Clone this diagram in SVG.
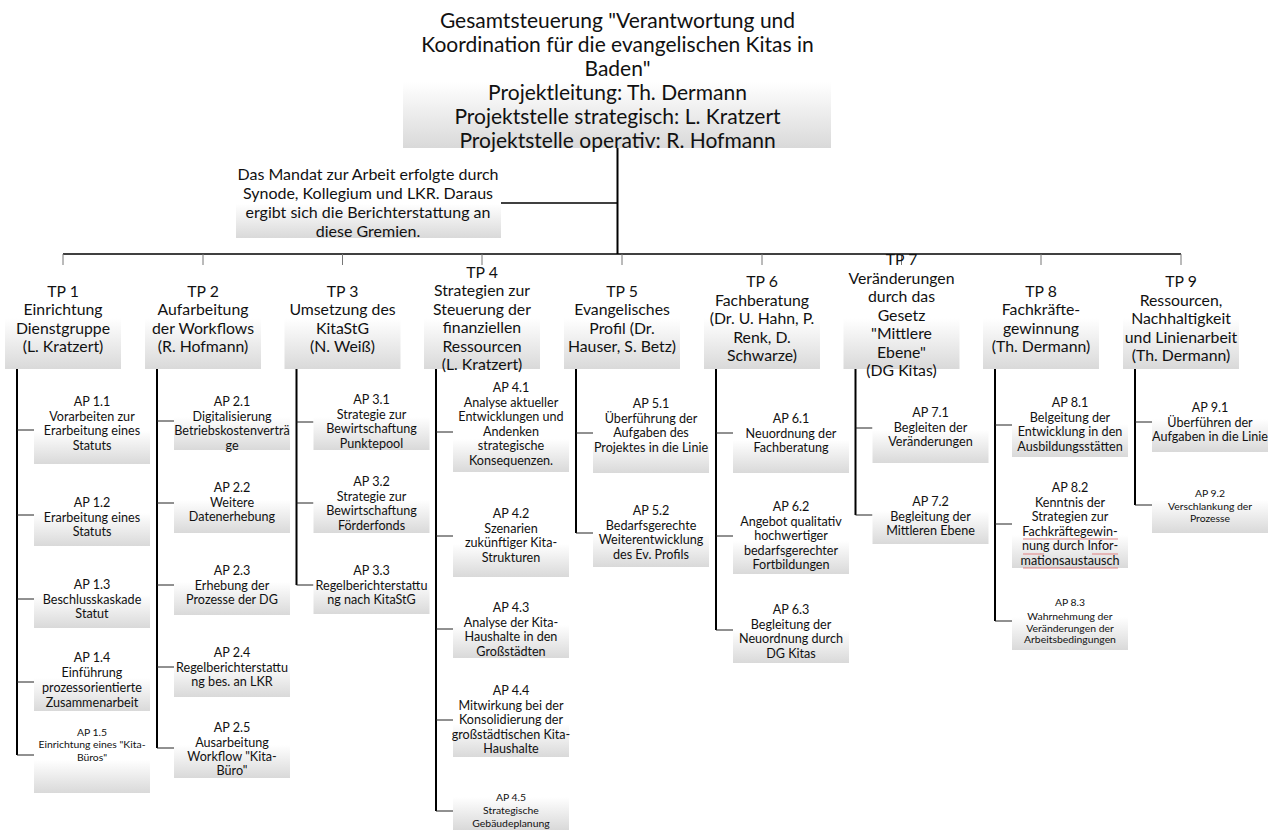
<svg xmlns="http://www.w3.org/2000/svg" width="1277" height="834" viewBox="0 0 1277 834">
<defs>
<linearGradient id="g" x1="0" y1="0" x2="0" y2="1">
<stop offset="0" stop-color="#ffffff"/>
<stop offset="0.45" stop-color="#ffffff"/>
<stop offset="1" stop-color="#d9d9d9"/>
</linearGradient>
<style>
text{font-family:Lato,"Open Sans","Liberation Sans",sans-serif;fill:#111;text-anchor:middle}
.t{font-size:21px}
.m{font-size:16px}
.tp{font-size:15.8px}
.ap{font-size:12.6px}
.s{font-size:10.4px}
.box{fill:url(#g)}
.bus{stroke:#000;stroke-width:1.5;fill:none}
.tick{stroke:#777;stroke-width:1;fill:none}
.trunk{stroke:#000;stroke-width:2;fill:none}
.stub{stroke:#222;stroke-width:1;fill:none}
.sp{stroke:#e06a6a;stroke-width:1;fill:none;opacity:0.8}
</style>
</defs>
<rect width="1277" height="834" fill="#fff"/>

<g id="connectors">
<path class="trunk" d="M617.5 148V254"/>
<path class="bus" d="M501 203H617.5"/>
<path class="bus" d="M63 254H1181"/>
<path class="tick" d="M63 254V265M203 254V265M342.5 254V265M482 254V265M622 254V265M762 254V265M901.5 254V265M1041 254V265M1181 254V265"/>
<path class="trunk" d="M17 369V755M157 369V748M296.5 369V585M436 369V811M576 369V533M716 369V630M855.5 369V515M995 369V621M1135 369V505"/>
<path class="stub" d="M17 430H34M17 515H34M17 599H34M17 682H34M17 755H34"/>
<path class="stub" d="M157 421H174M157 503H174M157 585H174M157 667H174M157 748H174"/>
<path class="stub" d="M296.5 422H313.5M296.5 503H313.5M296.5 585H313.5"/>
<path class="stub" d="M436 432H453M436 536H453M436 629H453M436 720H453M436 811H453"/>
<path class="stub" d="M576 433H593M576 533H593"/>
<path class="stub" d="M716 433H733M716 536H733M716 630H733"/>
<path class="stub" d="M855.5 428H872.5M855.5 515H872.5"/>
<path class="stub" d="M995 425H1012M995 524H1012M995 621H1012"/>
<path class="stub" d="M1135 422H1152M1135 505H1152"/>
</g>

<g id="gesamt">
<rect class="box" x="403" y="28" width="428" height="120"/>
<text class="t"><tspan x="617.5" y="28">Gesamtsteuerung "Verantwortung und</tspan><tspan x="617.5" y="52">Koordination für die evangelischen Kitas in</tspan><tspan x="617.5" y="76">Baden"</tspan><tspan x="617.5" y="100">Projektleitung: Th. Dermann</tspan><tspan x="617.5" y="124">Projektstelle strategisch: L. Kratzert</tspan><tspan x="617.5" y="148">Projektstelle operativ: R. Hofmann</tspan></text>
</g>

<g id="mandat">
<rect class="box" x="236" y="176" width="265" height="62"/>
<text class="m"><tspan x="368" y="180">Das Mandat zur Arbeit erfolgte durch</tspan><tspan x="368" y="199">Synode, Kollegium und LKR. Daraus</tspan><tspan x="368" y="218">ergibt sich die Berichterstattung an</tspan><tspan x="368" y="237">diese Gremien.</tspan></text>
</g>

<g id="tp1">
<rect class="box" x="5" y="277" width="116" height="92"/>
<text class="tp"><tspan x="63" y="296.5">TP 1</tspan><tspan x="63" y="315">Einrichtung</tspan><tspan x="63" y="333.5">Dienstgruppe</tspan><tspan x="63" y="352">(L. Kratzert)</tspan></text>
</g>
<g id="tp2">
<rect class="box" x="145" y="277" width="116" height="92"/>
<text class="tp"><tspan x="203" y="296.5">TP 2</tspan><tspan x="203" y="315">Aufarbeitung</tspan><tspan x="203" y="333.5">der Workflows</tspan><tspan x="203" y="352">(R. Hofmann)</tspan></text>
</g>
<g id="tp3">
<rect class="box" x="284.5" y="277" width="116" height="92"/>
<text class="tp"><tspan x="342.5" y="296.5">TP 3</tspan><tspan x="342.5" y="315">Umsetzung des</tspan><tspan x="342.5" y="333.5">KitaStG</tspan><tspan x="342.5" y="352">(N. Weiß)</tspan></text>
</g>
<g id="tp4">
<rect class="box" x="424" y="277" width="116" height="92"/>
<text class="tp"><tspan x="482" y="277.5">TP 4</tspan><tspan x="482" y="296">Strategien zur</tspan><tspan x="482" y="314.5">Steuerung der</tspan><tspan x="482" y="333">finanziellen</tspan><tspan x="482" y="351.5">Ressourcen</tspan><tspan x="482" y="369.5">(L. Kratzert)</tspan></text>
</g>
<g id="tp5">
<rect class="box" x="564" y="277" width="116" height="92"/>
<text class="tp"><tspan x="622" y="296.5">TP 5</tspan><tspan x="622" y="315">Evangelisches</tspan><tspan x="622" y="333.5">Profil (Dr.</tspan><tspan x="622" y="352">Hauser, S. Betz)</tspan></text>
</g>
<g id="tp6">
<rect class="box" x="704" y="277" width="116" height="92"/>
<text class="tp"><tspan x="762" y="287">TP 6</tspan><tspan x="762" y="305.5">Fachberatung</tspan><tspan x="762" y="324">(Dr. U. Hahn, P.</tspan><tspan x="762" y="342.5">Renk, D.</tspan><tspan x="762" y="361">Schwarze)</tspan></text>
</g>
<g id="tp7">
<rect class="box" x="843.5" y="277" width="116" height="92"/>
<text class="tp"><tspan x="901.5" y="265">TP 7</tspan><tspan x="901.5" y="283.5">Veränderungen</tspan><tspan x="901.5" y="302">durch das</tspan><tspan x="901.5" y="320.5">Gesetz</tspan><tspan x="901.5" y="339">"Mittlere</tspan><tspan x="901.5" y="357.5">Ebene"</tspan><tspan x="901.5" y="376">(DG Kitas)</tspan></text>
</g>
<g id="tp8">
<rect class="box" x="983" y="277" width="116" height="92"/>
<text class="tp"><tspan x="1041" y="296.5">TP 8</tspan><tspan x="1041" y="315">Fachkräfte-</tspan><tspan x="1041" y="333.5">gewinnung</tspan><tspan x="1041" y="352">(Th. Dermann)</tspan></text>
</g>
<g id="tp9">
<rect class="box" x="1123" y="277" width="116" height="92"/>
<text class="tp"><tspan x="1181" y="287">TP 9</tspan><tspan x="1181" y="305.5">Ressourcen,</tspan><tspan x="1181" y="324">Nachhaltigkeit</tspan><tspan x="1181" y="342.5">und Linienarbeit</tspan><tspan x="1181" y="361">(Th. Dermann)</tspan></text>
</g>

<g id="ap1-1"><rect class="box" x="34" y="404" width="116" height="60"/>
<text class="ap"><tspan x="92" y="406">AP 1.1</tspan><tspan x="92" y="420.5">Vorarbeiten zur</tspan><tspan x="92" y="435">Erarbeitung eines</tspan><tspan x="92" y="449.5">Statuts</tspan></text></g>
<g id="ap1-2"><rect class="box" x="34" y="486" width="116" height="60"/>
<text class="ap"><tspan x="92" y="507">AP 1.2</tspan><tspan x="92" y="521.5">Erarbeitung eines</tspan><tspan x="92" y="536">Statuts</tspan></text></g>
<g id="ap1-3"><rect class="box" x="34" y="568" width="116" height="60"/>
<text class="ap"><tspan x="92" y="589">AP 1.3</tspan><tspan x="92" y="603.5">Beschlusskaskade</tspan><tspan x="92" y="618">Statut</tspan></text></g>
<g id="ap1-4"><rect class="box" x="34" y="651" width="116" height="60"/>
<text class="ap"><tspan x="92" y="662">AP 1.4</tspan><tspan x="92" y="677">Einführung</tspan><tspan x="92" y="692">prozessorientierte</tspan><tspan x="92" y="707">Zusammenarbeit</tspan></text></g>
<g id="ap1-5"><rect class="box" x="34" y="733" width="116" height="60"/>
<text class="s"><tspan x="92" y="735.5">AP 1.5</tspan><tspan x="92" y="748">Einrichtung eines "Kita-</tspan><tspan x="92" y="760.5">Büros"</tspan></text></g>

<g id="ap2-1"><rect class="box" x="174" y="390" width="116" height="60"/>
<text class="ap"><tspan x="232" y="406">AP 2.1</tspan><tspan x="232" y="420.5">Digitalisierung</tspan><tspan x="232" y="435">Betriebskostenverträ</tspan><tspan x="232" y="449.5">ge</tspan></text></g>
<g id="ap2-2"><rect class="box" x="174" y="473" width="116" height="60"/>
<text class="ap"><tspan x="232" y="492">AP 2.2</tspan><tspan x="232" y="506.5">Weitere</tspan><tspan x="232" y="521">Datenerhebung</tspan></text></g>
<g id="ap2-3"><rect class="box" x="174" y="555" width="116" height="60"/>
<text class="ap"><tspan x="232" y="575">AP 2.3</tspan><tspan x="232" y="589.5">Erhebung der</tspan><tspan x="232" y="604">Prozesse der DG</tspan></text></g>
<g id="ap2-4"><rect class="box" x="174" y="637" width="116" height="60"/>
<text class="ap"><tspan x="232" y="657">AP 2.4</tspan><tspan x="232" y="671.5">Regelberichterstattu</tspan><tspan x="232" y="686">ng bes. an LKR</tspan></text></g>
<g id="ap2-5"><rect class="box" x="174" y="718" width="116" height="60"/>
<text class="ap"><tspan x="232" y="732">AP 2.5</tspan><tspan x="232" y="746.5">Ausarbeitung</tspan><tspan x="232" y="761">Workflow "Kita-</tspan><tspan x="232" y="775">Büro"</tspan></text></g>

<g id="ap3-1"><rect class="box" x="313.5" y="390" width="116" height="60"/>
<text class="ap"><tspan x="371.5" y="404">AP 3.1</tspan><tspan x="371.5" y="418.5">Strategie zur</tspan><tspan x="371.5" y="433">Bewirtschaftung</tspan><tspan x="371.5" y="447.5">Punktepool</tspan></text></g>
<g id="ap3-2"><rect class="box" x="313.5" y="473" width="116" height="60"/>
<text class="ap"><tspan x="371.5" y="486">AP 3.2</tspan><tspan x="371.5" y="500.5">Strategie zur</tspan><tspan x="371.5" y="515">Bewirtschaftung</tspan><tspan x="371.5" y="529.5">Förderfonds</tspan></text></g>
<g id="ap3-3"><rect class="box" x="313.5" y="554" width="116" height="60"/>
<text class="ap"><tspan x="371.5" y="575">AP 3.3</tspan><tspan x="371.5" y="589.5">Regelberichterstattu</tspan><tspan x="371.5" y="604">ng nach KitaStG</tspan></text></g>

<g id="ap4-1"><rect class="box" x="453" y="412" width="116" height="60"/>
<text class="ap"><tspan x="511" y="392">AP 4.1</tspan><tspan x="511" y="406.5">Analyse aktueller</tspan><tspan x="511" y="421">Entwicklungen und</tspan><tspan x="511" y="435.5">Andenken</tspan><tspan x="511" y="450">strategische</tspan><tspan x="511" y="464.5">Konsequenzen.</tspan></text></g>
<g id="ap4-2"><rect class="box" x="453" y="517" width="116" height="60"/>
<text class="ap"><tspan x="511" y="518">AP 4.2</tspan><tspan x="511" y="532.5">Szenarien</tspan><tspan x="511" y="547">zukünftiger Kita-</tspan><tspan x="511" y="561.5">Strukturen</tspan></text></g>
<g id="ap4-3"><rect class="box" x="453" y="598" width="116" height="60"/>
<text class="ap"><tspan x="511" y="612">AP 4.3</tspan><tspan x="511" y="626.5">Analyse der Kita-</tspan><tspan x="511" y="641">Haushalte in den</tspan><tspan x="511" y="655.5">Großstädten</tspan></text></g>
<g id="ap4-4"><rect class="box" x="453" y="697" width="116" height="60"/>
<text class="ap"><tspan x="511" y="695">AP 4.4</tspan><tspan x="511" y="709.5">Mitwirkung bei der</tspan><tspan x="511" y="724">Konsolidierung der</tspan><tspan x="511" y="738.5">großstädtischen Kita-</tspan><tspan x="511" y="753">Haushalte</tspan></text></g>
<g id="ap4-5"><rect class="box" x="453" y="770" width="116" height="60"/>
<text class="s"><tspan x="511" y="800.5">AP 4.5</tspan><tspan x="511" y="814">Strategische</tspan><tspan x="511" y="826.5">Gebäudeplanung</tspan></text></g>

<g id="ap5-1"><rect class="box" x="593" y="413" width="116" height="60"/>
<text class="ap"><tspan x="651" y="408">AP 5.1</tspan><tspan x="651" y="422.5">Überführung der</tspan><tspan x="651" y="437">Aufgaben des</tspan><tspan x="651" y="451.5">Projektes in die Linie</tspan></text></g>
<g id="ap5-2"><rect class="box" x="593" y="507" width="116" height="60"/>
<text class="ap"><tspan x="651" y="515">AP 5.2</tspan><tspan x="651" y="529.5">Bedarfsgerechte</tspan><tspan x="651" y="544">Weiterentwicklung</tspan><tspan x="651" y="558.5">des Ev. Profils</tspan></text></g>

<g id="ap6-1"><rect class="box" x="733" y="413" width="116" height="60"/>
<text class="ap"><tspan x="791" y="423">AP 6.1</tspan><tspan x="791" y="437.5">Neuordnung der</tspan><tspan x="791" y="452">Fachberatung</tspan></text></g>
<g id="ap6-2"><rect class="box" x="733" y="514" width="116" height="60"/>
<text class="ap"><tspan x="791" y="511">AP 6.2</tspan><tspan x="791" y="525.5">Angebot qualitativ</tspan><tspan x="791" y="540">hochwertiger</tspan><tspan x="791" y="554.5">bedarfsgerechter</tspan><tspan x="791" y="569">Fortbildungen</tspan></text></g>
<g id="ap6-3"><rect class="box" x="733" y="603" width="116" height="60"/>
<text class="ap"><tspan x="791" y="614">AP 6.3</tspan><tspan x="791" y="628.5">Begleitung der</tspan><tspan x="791" y="643">Neuordnung durch</tspan><tspan x="791" y="657.5">DG Kitas</tspan></text></g>

<g id="ap7-1"><rect class="box" x="872.5" y="403" width="116" height="60"/>
<text class="ap"><tspan x="930.5" y="417">AP 7.1</tspan><tspan x="930.5" y="431.5">Begleiten der</tspan><tspan x="930.5" y="446">Veränderungen</tspan></text></g>
<g id="ap7-2"><rect class="box" x="872.5" y="484" width="116" height="60"/>
<text class="ap"><tspan x="930.5" y="506">AP 7.2</tspan><tspan x="930.5" y="520.5">Begleitung der</tspan><tspan x="930.5" y="535">Mittleren Ebene</tspan></text></g>

<g id="ap8-1"><rect class="box" x="1012" y="397" width="116" height="60"/>
<text class="ap"><tspan x="1070" y="407">AP 8.1</tspan><tspan x="1070" y="421.5">Belgeitung der</tspan><tspan x="1070" y="436">Entwicklung in den</tspan><tspan x="1070" y="450.5">Ausbildungsstätten</tspan></text></g>
<g id="ap8-2"><rect class="box" x="1012" y="508" width="116" height="60"/>
<text class="ap"><tspan x="1070" y="492">AP 8.2</tspan><tspan x="1070" y="506.5">Kenntnis der</tspan><tspan x="1070" y="521">Strategien zur</tspan><tspan x="1070" y="535.5">Fachkräftegewin-</tspan><tspan x="1070" y="550">nung durch Infor-</tspan><tspan x="1070" y="564.5">mationsaustausch</tspan></text>
<path class="sp" d="M1023 539H1118M1023 554H1044M1092 554H1118M1023 568H1118"/></g>
<g id="ap8-3"><rect class="box" x="1012" y="590" width="116" height="60"/>
<text class="s"><tspan x="1070" y="605.5">AP 8.3</tspan><tspan x="1070" y="619.5">Wahrnehmung der</tspan><tspan x="1070" y="631.5">Veränderungen der</tspan><tspan x="1070" y="643">Arbeitsbedingungen</tspan></text></g>

<g id="ap9-1"><rect class="box" x="1152" y="392" width="116" height="60"/>
<text class="ap"><tspan x="1210" y="412">AP 9.1</tspan><tspan x="1210" y="426.5">Überführen der</tspan><tspan x="1210" y="441">Aufgaben in die Linie</tspan></text></g>
<g id="ap9-2"><rect class="box" x="1152" y="473" width="116" height="60"/>
<text class="s"><tspan x="1210" y="496.5">AP 9.2</tspan><tspan x="1210" y="509.5">Verschlankung der</tspan><tspan x="1210" y="521.5">Prozesse</tspan></text></g>
</svg>
